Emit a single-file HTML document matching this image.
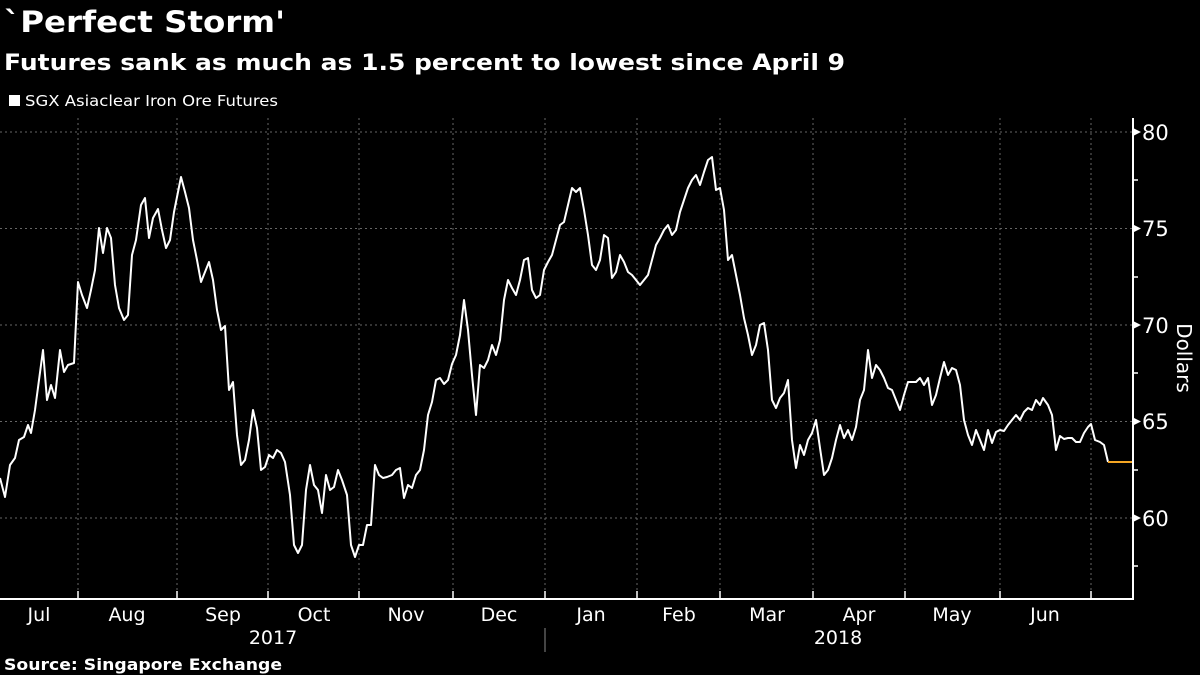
<!DOCTYPE html>
<html><head><meta charset="utf-8"><style>
html,body{margin:0;padding:0;background:#000;}
svg{display:block;}
text{font-family:"DejaVu Sans","Liberation Sans",sans-serif;fill:#fff;}
</style></head><body>
<svg width="1200" height="675" viewBox="0 0 1200 675" xmlns="http://www.w3.org/2000/svg">
<rect width="1200" height="675" fill="#000"/>
<text x="4" y="32" font-size="29" font-weight="bold" textLength="281" lengthAdjust="spacingAndGlyphs">`Perfect Storm'</text>
<text x="4" y="70" font-size="22" font-weight="bold" textLength="841" lengthAdjust="spacingAndGlyphs">Futures sank as much as 1.5 percent to lowest since April 9</text>
<rect x="9" y="95" width="11" height="11" fill="#fff"/>
<text x="25" y="106" font-size="15" textLength="253" lengthAdjust="spacingAndGlyphs">SGX Asiaclear Iron Ore Futures</text>
<g stroke="#666" stroke-width="1" stroke-dasharray="2,3">
<line x1="0" x2="1132" y1="132" y2="132"/><line x1="0" x2="1132" y1="228.5" y2="228.5"/>
<line x1="0" x2="1132" y1="325" y2="325"/><line x1="0" x2="1132" y1="421.5" y2="421.5"/>
<line x1="0" x2="1132" y1="518" y2="518"/>
<line x1="78" x2="78" y1="118" y2="598"/><line x1="177" x2="177" y1="118" y2="598"/>
<line x1="268" x2="268" y1="118" y2="598"/><line x1="359" x2="359" y1="118" y2="598"/>
<line x1="453" x2="453" y1="118" y2="598"/><line x1="545" x2="545" y1="118" y2="598"/>
<line x1="637" x2="637" y1="118" y2="598"/><line x1="720" x2="720" y1="118" y2="598"/>
<line x1="813" x2="813" y1="118" y2="598"/><line x1="905" x2="905" y1="118" y2="598"/>
<line x1="1000" x2="1000" y1="118" y2="598"/><line x1="1091" x2="1091" y1="118" y2="598"/>
</g>
<g stroke="#fff" stroke-width="2" fill="none">
<line x1="1133" y1="118" x2="1133" y2="599"/>
<line x1="0" y1="599" x2="1134" y2="599"/>
</g>
<g stroke="#fff" stroke-width="1.5">
<line x1="78" x2="78" y1="591" y2="599"/><line x1="177" x2="177" y1="591" y2="599"/>
<line x1="268" x2="268" y1="591" y2="599"/><line x1="359" x2="359" y1="591" y2="599"/>
<line x1="453" x2="453" y1="591" y2="599"/><line x1="545" x2="545" y1="591" y2="599"/>
<line x1="637" x2="637" y1="591" y2="599"/><line x1="720" x2="720" y1="591" y2="599"/>
<line x1="813" x2="813" y1="591" y2="599"/><line x1="905" x2="905" y1="591" y2="599"/>
<line x1="1000" x2="1000" y1="591" y2="599"/><line x1="1091" x2="1091" y1="591" y2="599"/>
<line x1="545" x2="545" y1="628" y2="652" stroke="#888" stroke-width="1"/>
<line x1="1133" x2="1138" y1="180" y2="180"/><line x1="1133" x2="1138" y1="277" y2="277"/>
<line x1="1133" x2="1138" y1="373" y2="373"/><line x1="1133" x2="1138" y1="470" y2="470"/>
<line x1="1133" x2="1138" y1="566" y2="566"/>
</g>
<g fill="#fff">
<path d="M1133,128 L1141,132 L1133,136Z"/><path d="M1133,224.5 L1141,228.5 L1133,232.5Z"/>
<path d="M1133,321 L1141,325 L1133,329Z"/><path d="M1133,417.5 L1141,421.5 L1133,425.5Z"/>
<path d="M1133,514 L1141,518 L1133,522Z"/>
</g>
<g font-size="21">
<text x="1142" y="140">80</text><text x="1142" y="236">75</text><text x="1142" y="333">70</text>
<text x="1142" y="429">65</text><text x="1142" y="526">60</text>
</g>
<text transform="translate(1177,358) rotate(90)" font-size="20" text-anchor="middle">Dollars</text>
<g font-size="19" text-anchor="middle">
<text x="39" y="621">Jul</text><text x="127" y="621">Aug</text><text x="223" y="621">Sep</text>
<text x="314" y="621">Oct</text><text x="406" y="621">Nov</text><text x="499" y="621">Dec</text>
<text x="591" y="621">Jan</text><text x="679" y="621">Feb</text><text x="767" y="621">Mar</text>
<text x="859" y="621">Apr</text><text x="952" y="621">May</text><text x="1045" y="621">Jun</text>
<text x="273" y="644">2017</text><text x="838" y="644">2018</text>
</g>
<text x="4" y="670" font-size="16" font-weight="bold" textLength="278" lengthAdjust="spacingAndGlyphs">Source: Singapore Exchange</text>
<polyline fill="none" stroke="#fff" stroke-width="2" stroke-linejoin="round" points="0,478 5,497 10,465 15,458 19,440 24,437 28,425 31,433 35,410 39,380 43,350 47,400 51,385 55,398 60,350 64,372 68,365 74,363 78,282 82,295 87,308 91,290 95,270 99,228 103,253 107,228 111,238 115,285 119,308 124,320 128,315 132,255 136,240 141,205 145,198 149,238 153,218 158,209 162,230 166,248 170,240 174,212 181,177 185,192 189,208 193,240 197,260 201,282 205,272 209,262 213,280 217,310 221,330 225,326 229,390 233,382 237,435 241,465 245,460 249,440 253,410 257,428 261,470 265,467 269,455 273,458 277,450 281,453 285,462 290,495 294,545 298,553 302,545 306,490 310,465 314,485 318,490 322,513 326,475 330,490 334,487 338,470 342,480 347,495 351,545 355,557 359,545 363,545 367,525 371,525 375,465 379,475 383,478 387,477 392,475 396,470 400,468 404,498 408,485 412,488 416,475 420,470 424,450 428,415 432,402 436,380 440,378 444,384 448,380 452,364 456,355 460,335 464,300 468,330 472,375 476,415 480,365 484,368 488,360 492,345 496,355 500,340 504,300 508,280 512,288 516,295 520,280 524,260 528,258 532,290 536,298 540,295 544,270 548,262 552,255 556,240 560,225 564,222 568,205 572,188 576,192 580,188 584,210 588,235 592,265 596,270 600,260 604,235 608,238 612,278 616,272 620,255 624,262 628,272 632,275 636,280 640,285 644,280 648,275 652,260 656,245 660,238 664,230 668,225 672,235 676,230 680,212 684,200 688,188 692,180 696,175 700,185 704,172 708,160 712,157 716,190 720,188 724,210 728,260 732,255 736,275 740,295 744,318 748,335 752,355 756,345 760,325 764,323 768,350 772,400 776,408 780,398 784,393 788,380 792,440 796,468 800,445 804,455 808,440 812,433 816,420 820,448 824,475 828,470 832,458 836,440 840,425 844,438 848,430 852,440 856,427 860,400 864,390 868,350 872,378 876,365 880,370 884,378 888,388 892,390 896,400 900,410 904,395 908,382 912,382 916,382 920,378 924,385 928,378 932,405 936,395 940,378 944,362 948,375 952,368 956,370 960,385 964,420 968,435 972,445 976,430 980,440 984,450 988,430 992,443 996,432 1000,430 1004,431 1008,425 1012,420 1016,415 1020,420 1024,412 1028,408 1032,410 1036,400 1040,405 1043,398 1048,405 1052,415 1056,450 1060,436 1064,439 1068,438 1072,438 1076,442 1080,442 1084,433 1088,427 1091,424 1095,440 1100,442 1104,445 1108,462"/>
<line x1="1108" y1="462" x2="1132" y2="462" stroke="#f5a623" stroke-width="2"/>
</svg>
</body></html>
